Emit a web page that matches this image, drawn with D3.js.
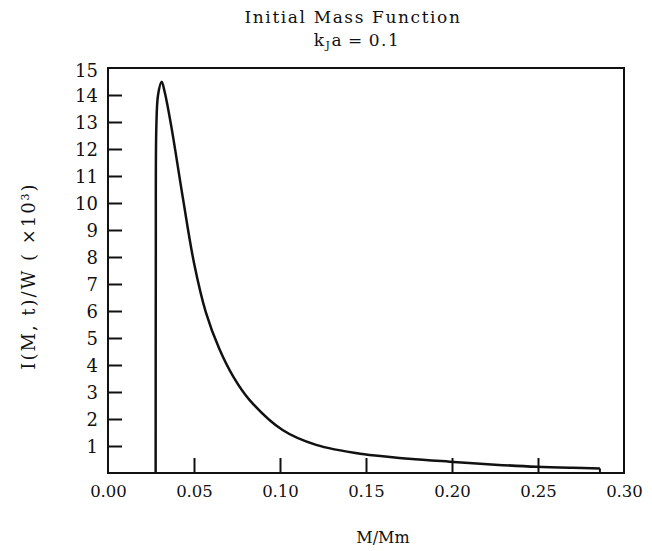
<!DOCTYPE html>
<html>
<head>
<meta charset="utf-8">
<script src="https://cdn.jsdelivr.net/npm/d3@7"></script>
<style>
  body { margin: 0; background: #fff; }
  text { font-family: "DejaVu Serif", "Liberation Serif", serif; fill: #111; }
</style>
</head>
<body>
<div id="chart"></div>
<script>
// Values.
const massVals = [0.0277, 0.0278, 0.0281, 0.0291, 0.0312, 0.0330, 0.0369, 0.0435, 0.0501, 0.0569, 0.0647, 0.0730, 0.0821, 0.1015, 0.121, 0.148, 0.175, 0.1986, 0.225, 0.249, 0.270, 0.286];
const imfVals  = [0,      8.0,    12.8,   14.0,   14.49,  14.1,   12.8,   10.2,   7.75,   5.95,   4.6,    3.55,   2.72,   1.59,   1.04,  0.70,  0.53,  0.42,   0.31,  0.23,  0.19,  0.17];
const yTicks = d3.range(1, 16);
const xTicks = [0, 0.05, 0.10, 0.15, 0.20, 0.25, 0.30];

const width = 652, height = 551;
const plotLeft = 108, plotRight = 624, plotTop = 68, plotBottom = 473;

const svg = d3.select("#chart").append("svg")
  .attr("width", width)
  .attr("height", height);

const x = d3.scaleLinear().domain([0, 0.3]).range([plotLeft, plotRight]);
const y = d3.scaleLinear().domain([0, 15]).range([plotBottom, plotTop]);

// Frame
svg.append("rect")
  .attr("x", plotLeft).attr("y", plotTop)
  .attr("width", plotRight - plotLeft).attr("height", plotBottom - plotTop)
  .attr("fill", "none").attr("stroke", "#111").attr("stroke-width", 2);

// Y axis: ticks pointing inward, labels on the left
const yAxis = d3.axisLeft(y)
  .tickValues(yTicks)
  .tickSizeInner(-14)
  .tickSizeOuter(0)
  .tickPadding(10)
  .tickFormat(d3.format("d"));
const gy = svg.append("g").attr("transform", `translate(${plotLeft},0)`).call(yAxis);
gy.select(".domain").remove();
gy.selectAll(".tick line").attr("stroke", "#111").attr("stroke-width", 2)
  .filter(d => d === 15).remove();
gy.selectAll(".tick text").style("font-size", "18px").attr("fill", "#111")
  .attr("dy", d => d === 15 ? "0.45em" : "0.35em");

// X axis: ticks pointing up, labels below
const xAxis = d3.axisBottom(x)
  .tickValues(xTicks)
  .tickSizeInner(-15)
  .tickSizeOuter(0)
  .tickPadding(12)
  .tickFormat(d3.format(".2f"));
const gx = svg.append("g").attr("transform", `translate(0,${plotBottom})`).call(xAxis);
gx.select(".domain").remove();
gx.selectAll(".tick line").attr("stroke", "#111").attr("stroke-width", 2)
  .filter(d => d === 0 || d === 0.3).remove();
gx.selectAll(".tick text").style("font-size", "16.5px").attr("fill", "#111");

// Curve
const pts = massVals.map((m, i) => [m, imfVals[i]]);
const line = d3.line()
  .x(d => x(d[0]))
  .y(d => y(d[1]))
  .curve(d3.curveCatmullRom.alpha(0.5));
svg.append("path")
  .attr("d", line(pts))
  .attr("fill", "none")
  .attr("stroke", "#111")
  .attr("stroke-width", 2.5)
  .attr("stroke-linejoin", "round");

// Drop to the axis at the end of the curve
const last = pts[pts.length - 1];
svg.append("line")
  .attr("x1", x(last[0])).attr("x2", x(last[0]))
  .attr("y1", y(last[1])).attr("y2", y(0))
  .attr("stroke", "#111").attr("stroke-width", 2);

// Titles
svg.append("text")
  .attr("x", 353).attr("y", 23)
  .attr("text-anchor", "middle")
  .style("font-size", "17px")
  .style("letter-spacing", "1.6px")
  .text("Initial Mass Function");

const sub = svg.append("text")
  .attr("x", 357).attr("y", 46)
  .attr("text-anchor", "middle")
  .style("font-size", "17px")
  .style("letter-spacing", "1.5px");
sub.append("tspan").text("k");
sub.append("tspan").attr("dy", 3).style("font-size", "11px").text("J");
sub.append("tspan").attr("dy", -3).text("a\u2009=\u20090.1");

svg.append("text")
  .attr("x", 383).attr("y", 543)
  .attr("text-anchor", "middle")
  .style("font-size", "16px")
  .text("M/Mm");

const yl = svg.append("text")
  .attr("transform", "translate(35,276) rotate(-90)")
  .attr("text-anchor", "middle")
  .style("font-size", "18px")
  .style("letter-spacing", "2px");
yl.append("tspan").text("I(M, t)/W  (  \u00d710");
yl.append("tspan").attr("dy", -6).style("font-size", "11px").text("3");
yl.append("tspan").attr("dy", 6).text(")");
</script>
</body>
</html>
